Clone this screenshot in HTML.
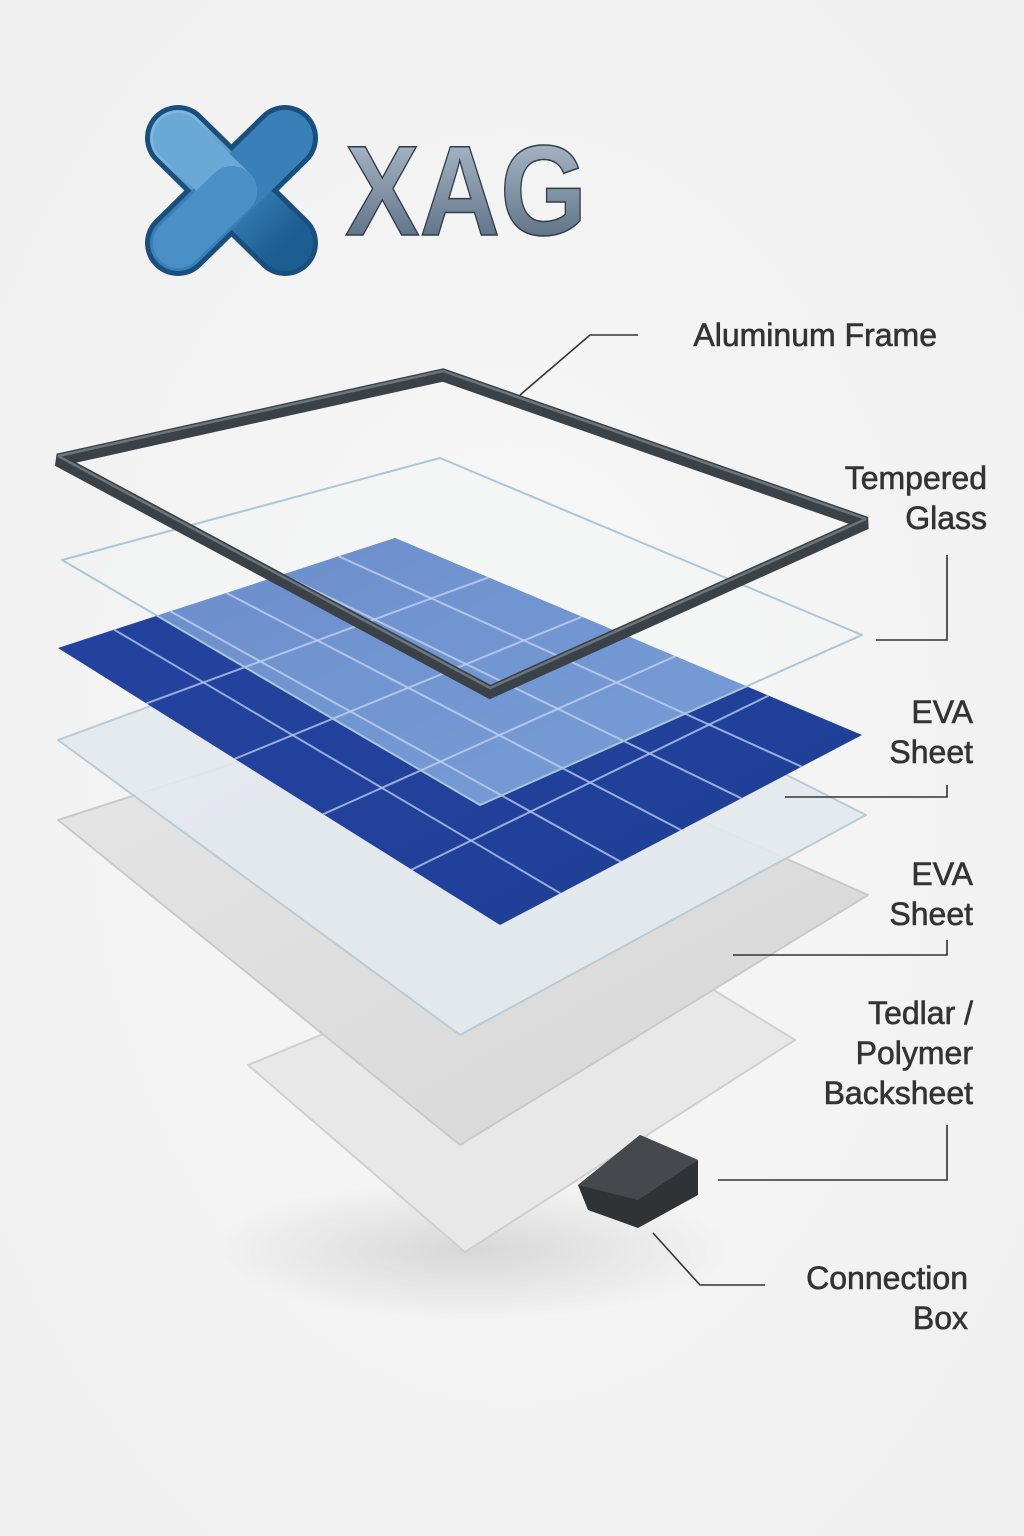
<!DOCTYPE html>
<html><head><meta charset="utf-8"><style>
html,body{margin:0;padding:0;background:#f4f4f4;}
svg{display:block;}
text{font-family:"Liberation Sans",sans-serif;}
</style></head><body>
<svg width="1024" height="1536" viewBox="0 0 1024 1536" xmlns="http://www.w3.org/2000/svg">
<defs>
<radialGradient id="bg" cx="50%" cy="50%" r="70%"><stop offset="0" stop-color="#f8f8f8"/><stop offset="1" stop-color="#efefef"/></radialGradient>
<linearGradient id="xg" x1="0" y1="0" x2="1" y2="1"><stop offset="0" stop-color="#7fb6dc"/><stop offset="0.5" stop-color="#3d86bd"/><stop offset="1" stop-color="#1c5d92"/></linearGradient>
<linearGradient id="tg" x1="0" y1="0" x2="0" y2="1"><stop offset="0" stop-color="#b5c4d2"/><stop offset="1" stop-color="#4f6378"/></linearGradient>
<linearGradient id="cellg" x1="0" y1="0" x2="1" y2="1"><stop offset="0" stop-color="#2443a0"/><stop offset="1" stop-color="#1f3f96"/></linearGradient>
<linearGradient id="lite" x1="0" y1="0" x2="1" y2="1"><stop offset="0" stop-color="#4a74c2"/><stop offset="1" stop-color="#5f8dd2"/></linearGradient>
<linearGradient id="gray" x1="0" y1="0" x2="1" y2="1"><stop offset="0" stop-color="#e6e6e6"/><stop offset="1" stop-color="#d6d6d6"/></linearGradient>
<radialGradient id="sh" cx="50%" cy="50%" r="50%"><stop offset="0" stop-color="#000" stop-opacity="0.12"/><stop offset="1" stop-color="#000" stop-opacity="0"/></radialGradient>
<clipPath id="glassclip"><polygon points="62,560 440,458 862,635 480,805"/></clipPath>
</defs>
<rect width="1024" height="1536" fill="url(#bg)"/>
<g>
<line x1="178" y1="138" x2="285" y2="243" stroke="#1a4e7c" stroke-width="66" stroke-linecap="round"/>
<line x1="285" y1="138" x2="178" y2="243" stroke="#1a4e7c" stroke-width="66" stroke-linecap="round"/>
<line x1="178" y1="138" x2="285" y2="243" stroke="url(#xg)" stroke-width="56" stroke-linecap="round"/>
<line x1="285" y1="138" x2="178" y2="243" stroke="#3a80b8" stroke-width="56" stroke-linecap="round"/>
<line x1="178" y1="138" x2="232" y2="191" stroke="#6aa8d6" stroke-width="50" stroke-linecap="round"/>
<line x1="178" y1="243" x2="232" y2="191" stroke="#4a90c6" stroke-width="50" stroke-linecap="round"/>
</g>
<text x="345" y="235" font-size="128" font-weight="bold" fill="url(#tg)" stroke="#2f3d4a" stroke-width="1.5" textLength="242" lengthAdjust="spacingAndGlyphs">XAG</text>
<ellipse cx="470" cy="1250" rx="260" ry="70" fill="url(#sh)"/>
<polygon points="248,1065 600,920 795,1040 465,1252" fill="#e8e8e8" stroke="#cfcfcf" stroke-width="2" stroke-linejoin="round"/>
<polygon points="578,1185 640,1135 698,1160 698,1195 638,1228 588,1210" fill="#2f3336"/>
<polygon points="578,1185 640,1135 698,1160 638,1200" fill="#45494d"/>
<polygon points="58,820 430,700 868,895 460,1145" fill="url(#gray)" stroke="#c9c9c9" stroke-width="2" stroke-linejoin="round"/>
<polygon points="58,740 440,600 866,815 460,1035" fill="#e3e9ee" fill-opacity="0.9" stroke="#b8cbd7" stroke-width="2" stroke-linejoin="round"/>
<polygon points="58,648 395,538 862,735 500,925" fill="url(#cellg)"/>
<polygon points="58,648 395,538 862,735 500,925" fill="url(#lite)" clip-path="url(#glassclip)"/>
<g stroke="#b8c8ee" stroke-width="2" fill="none" stroke-opacity="0.8">
<line x1="114.2" y1="629.7" x2="560.3" y2="893.3"/>
<line x1="170.3" y1="611.3" x2="620.7" y2="861.7"/>
<line x1="226.5" y1="593" x2="681" y2="830"/>
<line x1="282.7" y1="574.7" x2="741.3" y2="798.3"/>
<line x1="338.8" y1="556.3" x2="801.7" y2="766.7"/>
<line x1="146.4" y1="703.4" x2="488.4" y2="577.4"/>
<line x1="234.8" y1="758.8" x2="581.8" y2="616.8"/>
<line x1="323.2" y1="814.2" x2="675.2" y2="656.2"/>
<line x1="411.6" y1="869.6" x2="768.6" y2="695.6"/>
</g>
<polygon points="62,560 440,458 862,635 480,805" fill="#eef3f7" fill-opacity="0.2" stroke="#a9c7d8" stroke-width="2" stroke-linejoin="round"/>
<polygon points="58,460 443,375 866,523 490,692" fill="none" stroke="#3a4248" stroke-width="13" stroke-linejoin="miter" stroke-miterlimit="1.5"/>
<polygon points="58,460 443,375 866,523 490,692" fill="none" stroke="#6b757c" stroke-width="2.5" transform="translate(0,-4)" stroke-miterlimit="1.5"/>
<g stroke="#333" stroke-width="1.6" fill="none">
<polyline points="520,395 590,335 638,335"/>
<polyline points="947,555 947,640 876,640"/>
<polyline points="947,785 947,797 785,797"/>
<polyline points="947,940 947,955 733,955"/>
<polyline points="947,1125 947,1180 718,1180"/>
<polyline points="653,1233 700,1285 765,1285"/>
</g>
<g font-size="32" fill="#333" text-anchor="end" stroke="#333" stroke-width="0.6">
<text x="937" y="346">Aluminum Frame</text>
<text x="987" y="489">Tempered</text><text x="987" y="529">Glass</text>
<text x="973" y="723">EVA</text><text x="973" y="763">Sheet</text>
<text x="973" y="885">EVA</text><text x="973" y="925">Sheet</text>
<text x="973" y="1024">Tedlar /</text><text x="973" y="1064">Polymer</text><text x="973" y="1104">Backsheet</text>
<text x="968" y="1289">Connection</text><text x="968" y="1329">Box</text>
</g>
</svg>
</body></html>
